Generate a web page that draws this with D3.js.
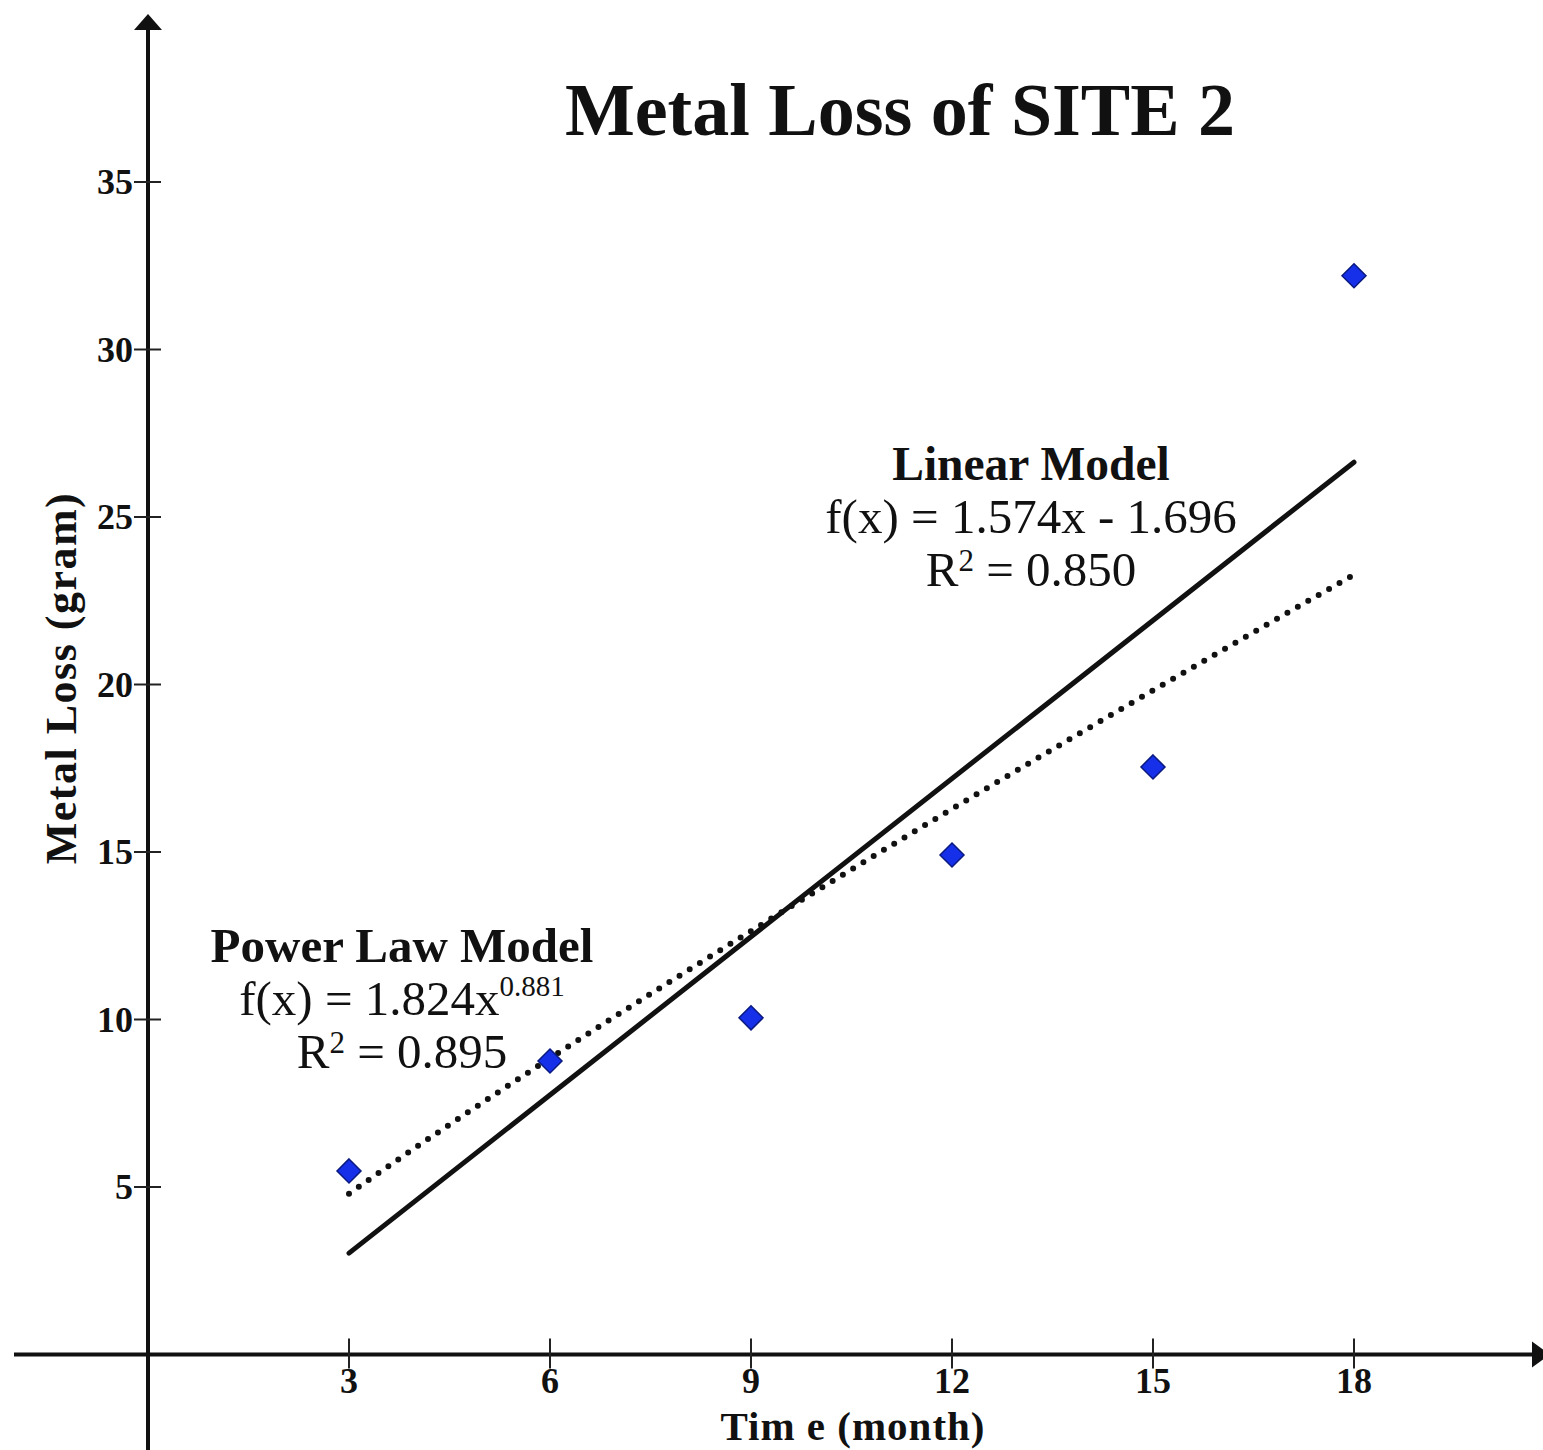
<!DOCTYPE html>
<html>
<head>
<meta charset="utf-8">
<script src="https://cdn.jsdelivr.net/npm/d3@7"></script>
<style>
  html, body { margin: 0; padding: 0; background: #fff; }
  svg text { font-family: "Liberation Serif", "Times New Roman", serif; fill: #111; }
</style>
</head>
<body>
<svg id="chart" width="1543" height="1450"></svg>
<script>
// Measured metal loss at site 2
const months = [3, 6, 9, 12, 15, 18];
const metalLoss = [5.48, 8.76, 10.05, 14.91, 17.54, 32.2];

// Axis ticks
const xTicks = [3, 6, 9, 12, 15, 18];
const yTicks = [5, 10, 15, 20, 25, 30, 35];

// Fitted models: linear f(x) = a x + b, power f(x) = c x^k
const linearCoef = [1.574, -1.696];
const powerCoef = [1.824, 0.881];
const fitRange = [3, 18];

const svg = d3.select("#chart");
const x = d3.scaleLinear().domain([0, 21]).range([148, 148 + 67 * 21]);
const y = d3.scaleLinear().domain([0, 40]).range([1354.5, 1354.5 - 33.5 * 40]);

// Axes through the origin, with arrowheads
const axisG = svg.append("g").attr("stroke", "#111");
axisG.append("line")
  .attr("x1", 14).attr("x2", 1536)
  .attr("y1", y(0)).attr("y2", y(0))
  .attr("stroke-width", 4);
axisG.append("line")
  .attr("x1", x(0)).attr("x2", x(0))
  .attr("y1", 1450).attr("y2", 22)
  .attr("stroke-width", 4);
svg.append("path")
  .attr("d", `M${x(0)},14 L${x(0) - 14},30 L${x(0) + 14},30 Z`)
  .attr("fill", "#111");
svg.append("path")
  .attr("d", `M1550,${y(0)} L1532,${y(0) - 13} L1532,${y(0) + 13} Z`)
  .attr("fill", "#111");

// Tick marks crossing the axes
svg.append("g").selectAll("line").data(yTicks).join("line")
  .attr("x1", x(0) - 14).attr("x2", x(0) + 13)
  .attr("y1", d => y(d)).attr("y2", d => y(d))
  .attr("stroke", "#222").attr("stroke-width", 2);
svg.append("g").selectAll("line").data(xTicks).join("line")
  .attr("x1", d => x(d)).attr("x2", d => x(d))
  .attr("y1", y(0) - 16).attr("y2", y(0) + 14)
  .attr("stroke", "#222").attr("stroke-width", 2);

// Tick labels
svg.append("g").selectAll("text").data(yTicks).join("text")
  .attr("x", 133).attr("y", d => y(d))
  .attr("dy", "0.34em")
  .attr("text-anchor", "end")
  .attr("font-size", 36).attr("font-weight", "bold")
  .text(d => d);
svg.append("g").selectAll("text").data(xTicks).join("text")
  .attr("x", d => x(d)).attr("y", 1393)
  .attr("text-anchor", "middle")
  .attr("font-size", 36).attr("font-weight", "bold")
  .text(d => d);

// Axis titles
svg.append("text")
  .attr("x", 853).attr("y", 1440)
  .attr("text-anchor", "middle")
  .attr("font-size", 41).attr("font-weight", "bold")
  .attr("letter-spacing", 1)
  .text("Tim e (month)");
svg.append("text")
  .attr("transform", "translate(76,678) rotate(-90)")
  .attr("text-anchor", "middle")
  .attr("font-size", 44).attr("font-weight", "bold")
  .attr("letter-spacing", 1.5)
  .text("Metal Loss (gram)");

// Chart title
svg.append("text")
  .attr("x", 900).attr("y", 135)
  .attr("text-anchor", "middle")
  .attr("font-size", 74).attr("font-weight", "bold")
  .text("Metal Loss of SITE 2");

// Linear fit line
const linF = t => linearCoef[0] * t + linearCoef[1];
svg.append("line")
  .attr("x1", x(fitRange[0])).attr("y1", y(linF(fitRange[0])))
  .attr("x2", x(fitRange[1])).attr("y2", y(linF(fitRange[1])))
  .attr("stroke", "#111").attr("stroke-width", 5)
  .attr("stroke-linecap", "round");

// Power-law fit curve (dotted)
const powF = t => powerCoef[0] * Math.pow(t, powerCoef[1]);
const curvePts = d3.range(fitRange[0], fitRange[1] + 0.001, 0.25).map(t => [t, powF(t)]);
svg.append("path")
  .datum(curvePts)
  .attr("d", d3.line().x(d => x(d[0])).y(d => y(d[1])))
  .attr("fill", "none")
  .attr("stroke", "#111").attr("stroke-width", 6)
  .attr("stroke-linecap", "round")
  .attr("stroke-dasharray", "0,12");

// Data markers (diamonds)
const points = months.map((m, i) => ({ m, v: metalLoss[i] }));
svg.append("g").selectAll("path").data(points).join("path")
  .attr("transform", d => `translate(${x(d.m)},${y(d.v)})`)
  .attr("d", "M0,-12 L12,0 L0,12 L-12,0 Z")
  .attr("fill", "#1530e8")
  .attr("stroke", "#0a1a80").attr("stroke-width", 1.5);

// Model annotations
function annotate(cx, yTop, title, titleSize, eqParts, r2) {
  const g = svg.append("g");
  g.append("text")
    .attr("x", cx).attr("y", yTop)
    .attr("text-anchor", "middle")
    .attr("font-size", titleSize).attr("font-weight", "bold")
    .text(title);
  const eq = g.append("text")
    .attr("x", cx).attr("y", yTop + 53)
    .attr("text-anchor", "middle")
    .attr("font-size", 49);
  eq.append("tspan").text(eqParts[0]);
  if (eqParts[1]) {
    eq.append("tspan").attr("font-size", 29).attr("dy", -19).text(eqParts[1]);
  }
  const r = g.append("text")
    .attr("x", cx).attr("y", yTop + 106)
    .attr("text-anchor", "middle")
    .attr("font-size", 49);
  r.append("tspan").text("R");
  r.append("tspan").attr("font-size", 31).attr("dy", -15).text("2");
  r.append("tspan").attr("dy", 15).text(" = " + r2);
}
annotate(1031, 480, "Linear Model", 47.5,
  [`f(x) = ${linearCoef[0].toFixed(3)}x - ${Math.abs(linearCoef[1]).toFixed(3)}`], "0.850");
annotate(402, 962, "Power Law Model", 49,
  [`f(x) = ${powerCoef[0].toFixed(3)}x`, powerCoef[1].toFixed(3)], "0.895");
</script>
</body>
</html>
